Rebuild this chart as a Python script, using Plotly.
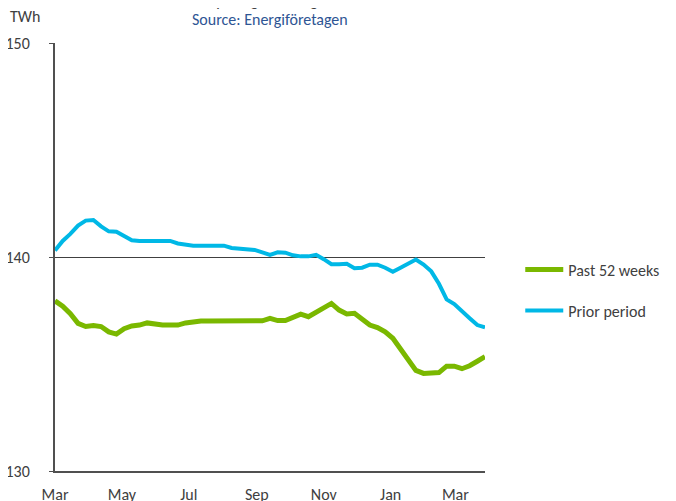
import pandas as pd
import plotly.graph_objects as go

# weekly readings, TWh (rolling sum)
dates = pd.date_range("2013-03-01", periods=57, freq="7D")

past_52_weeks = [
    137.95, 137.70, 137.35, 136.90, 136.75, 136.80, 136.75, 136.50, 136.40, 136.65,
    136.78, 136.82, 136.92, 136.85, 136.82, 136.82, 136.82, 136.92, 136.97, 137.01,
    137.01, 137.01, 137.01, 137.01, 137.01, 137.01, 137.01, 137.02, 137.13, 137.03,
    137.03, 137.21, 137.33, 137.21, 137.42, 137.63, 137.83, 137.52, 137.34, 137.37,
    137.13, 136.82, 136.70, 136.50, 136.20, 135.70, 135.12, 134.70, 134.56, 134.56,
    134.60, 134.90, 134.90, 134.78, 134.92, 135.13, 135.34,
]
prior_period = [
    140.30, 140.75, 141.08, 141.47, 141.70, 141.73, 141.43, 141.20, 141.18, 141.00,
    140.78, 140.75, 140.75, 140.75, 140.75, 140.75, 140.63, 140.58, 140.53, 140.53,
    140.53, 140.53, 140.53, 140.42, 140.40, 140.35, 140.33, 140.22, 140.10, 140.22,
    140.20, 140.08, 140.03, 140.03, 140.10, 139.90, 139.66, 139.66, 139.68, 139.48,
    139.50, 139.64, 139.64, 139.50, 139.31, 139.50, 139.70, 139.88, 139.65, 139.33,
    138.75, 138.02, 137.80, 137.44, 137.14, 136.82, 136.71,
]

font = "Carlito, Lato, sans-serif"
grey = "#404040"

fig = go.Figure()
fig.add_trace(go.Scatter(x=dates, y=past_52_weeks, name="Past 52 weeks", mode="lines",
                         line=dict(color="#7AB800", width=5), legendgroup="a"))
fig.add_trace(go.Scatter(x=dates, y=prior_period, name="Prior period", mode="lines",
                         line=dict(color="#00B8E6", width=4), legendgroup="b"))

# page adds an 8px body margin, so margins are offset by that
fig.update_layout(
    width=676, height=501,
    margin=dict(l=47, r=199, t=35, b=38),
    plot_bgcolor="white", paper_bgcolor="white",
    font=dict(family=font, size=16, color=grey),
    showlegend=True,
    legend=dict(x=1.082, y=0.51, xanchor="left", yanchor="top", itemwidth=38,
                tracegroupgap=17, font=dict(size=16, color=grey)),
)
fig.update_xaxes(
    range=[dates[0], dates[-1]], tickformat="%b", dtick="M2", tick0="2013-03-01",
    showgrid=False, showline=True, linecolor="#505050", linewidth=2,
    ticks="", ticklabelstandoff=8, automargin=False,
)
fig.update_yaxes(
    range=[130, 150], dtick=10, showgrid=True, gridcolor="#404040", gridwidth=1,
    showline=True, linecolor="#505050", linewidth=2, ticks="outside", ticklen=4,
    tickcolor="#505050", ticklabelstandoff=16, zeroline=False, automargin=False,
)

fig.add_annotation(text="TWh", xref="paper", yref="paper", x=-0.109, y=1.061,
                   xanchor="left", yanchor="middle", showarrow=False,
                   font=dict(size=16, color=grey))
fig.add_annotation(text="Source: Energiföretagen", xref="paper", yref="paper", x=0.50, y=1.054,
                   xanchor="center", yanchor="middle", showarrow=False,
                   font=dict(size=16, color="#2E5594"))
# title sits mostly above the page edge, as in the original
fig.add_annotation(text="Electricity usage, rolling 52 weeks", xref="paper", yref="paper",
                   x=0.50, y=1.0, xanchor="center", yanchor="bottom", yshift=30,
                   showarrow=False, font=dict(size=17, color=grey))

fig.write_html("out.html")
